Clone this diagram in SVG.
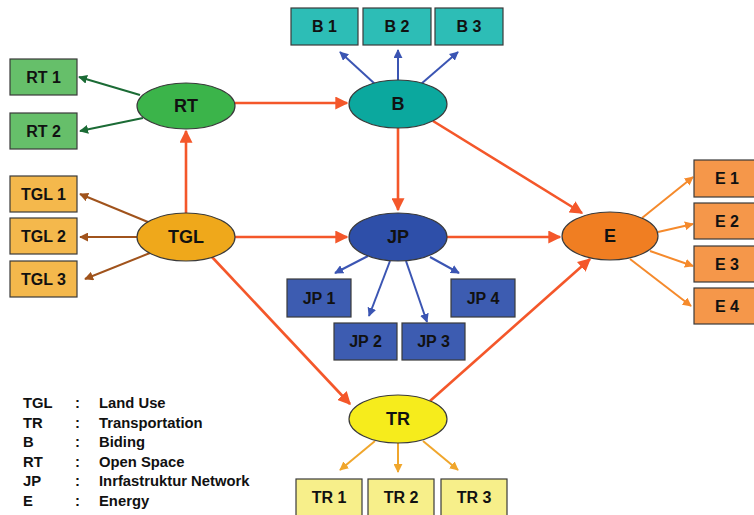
<svg xmlns="http://www.w3.org/2000/svg" width="754" height="515" viewBox="0 0 754 515">
  <defs>
    <style>
      text { font-family: "Liberation Sans", Arial, sans-serif; font-weight: bold; fill: #111; }
      .lbl { font-size: 16px; text-anchor: middle; dominant-baseline: central; }
      .big { font-size: 18px; }
      .leg { font-size: 14.8px; }
      .box { stroke: #3a3a3a; stroke-width: 1.2; }
      .ell { stroke: #3a3a3a; stroke-width: 1.2; }
      .main { stroke: #f4572a; stroke-width: 2.6; fill: none; marker-end: url(#aMain); }
      .fan { stroke-width: 2; fill: none; }
      .g { stroke: #1b6b35; marker-end: url(#aG); }
      .br { stroke: #a0531c; marker-end: url(#aBr); }
      .bl { stroke: #3b55b3; marker-end: url(#aBl); }
      .or { stroke: #f58a2c; marker-end: url(#aOr); }
      .ye { stroke: #f0a62c; marker-end: url(#aYe); }
    </style>
    <marker id="aMain" viewBox="0 0 10 10" refX="9" refY="5" markerWidth="13" markerHeight="13" markerUnits="userSpaceOnUse" orient="auto"><path d="M0,0 L10,5 L0,10 Z" fill="#f4572a"/></marker>
    <marker id="aG" viewBox="0 0 10 10" refX="9" refY="5" markerWidth="9" markerHeight="9" markerUnits="userSpaceOnUse" orient="auto"><path d="M0,0 L10,5 L0,10 Z" fill="#1b6b35"/></marker>
    <marker id="aBr" viewBox="0 0 10 10" refX="9" refY="5" markerWidth="9" markerHeight="9" markerUnits="userSpaceOnUse" orient="auto"><path d="M0,0 L10,5 L0,10 Z" fill="#a0531c"/></marker>
    <marker id="aBl" viewBox="0 0 10 10" refX="9" refY="5" markerWidth="9" markerHeight="9" markerUnits="userSpaceOnUse" orient="auto"><path d="M0,0 L10,5 L0,10 Z" fill="#3b55b3"/></marker>
    <marker id="aOr" viewBox="0 0 10 10" refX="9" refY="5" markerWidth="9" markerHeight="9" markerUnits="userSpaceOnUse" orient="auto"><path d="M0,0 L10,5 L0,10 Z" fill="#f58a2c"/></marker>
    <marker id="aYe" viewBox="0 0 10 10" refX="9" refY="5" markerWidth="9" markerHeight="9" markerUnits="userSpaceOnUse" orient="auto"><path d="M0,0 L10,5 L0,10 Z" fill="#f0a62c"/></marker>
  </defs>

  <rect width="754" height="515" fill="#ffffff"/>

  <!-- connectors -->
  <g id="connectors">
    <line class="main" x1="235" y1="103" x2="347" y2="103"/>
    <line class="main" x1="186" y1="213" x2="186" y2="131"/>
    <line class="main" x1="235" y1="237" x2="347" y2="237"/>
    <line class="main" x1="398" y1="128" x2="398" y2="210"/>
    <line class="main" x1="433" y1="121" x2="582" y2="213"/>
    <line class="main" x1="447" y1="237" x2="560" y2="237"/>
    <line class="main" x1="212" y1="257" x2="350" y2="404"/>
    <line class="main" x1="430" y1="401" x2="590" y2="259"/>

    <line class="fan g" x1="140" y1="95" x2="79" y2="77"/>
    <line class="fan g" x1="143" y1="118" x2="80" y2="131"/>

    <line class="fan br" x1="148" y1="222" x2="80" y2="194"/>
    <line class="fan br" x1="137" y1="237" x2="80" y2="237"/>
    <line class="fan br" x1="150" y1="253" x2="85" y2="279"/>

    <line class="fan bl" x1="375" y1="84" x2="340" y2="52"/>
    <line class="fan bl" x1="398" y1="80" x2="398" y2="50"/>
    <line class="fan bl" x1="421" y1="84" x2="458" y2="52"/>

    <line class="fan bl" x1="368" y1="256" x2="335" y2="273"/>
    <line class="fan bl" x1="390" y1="261" x2="369" y2="316"/>
    <line class="fan bl" x1="406" y1="261" x2="427" y2="322"/>
    <line class="fan bl" x1="430" y1="257" x2="459" y2="273"/>

    <line class="fan or" x1="642" y1="218" x2="693" y2="177"/>
    <line class="fan or" x1="658" y1="232" x2="693" y2="224"/>
    <line class="fan or" x1="650" y1="251" x2="693" y2="266"/>
    <line class="fan or" x1="630" y1="259" x2="691" y2="306"/>

    <line class="fan ye" x1="375" y1="441" x2="340" y2="470"/>
    <line class="fan ye" x1="398" y1="443" x2="398" y2="472"/>
    <line class="fan ye" x1="423" y1="441" x2="458" y2="470"/>
  </g>

  <!-- RT -->
  <g id="RT"><ellipse class="ell" cx="186" cy="106" rx="49" ry="23" fill="#3bb44a"/><text class="lbl big" x="186" y="106">RT</text></g>
  <g id="RT1"><rect class="box" x="10" y="59" width="67" height="36" fill="#66bf6a"/><text class="lbl" x="43.5" y="77">RT 1</text></g>
  <g id="RT2"><rect class="box" x="10" y="113" width="67" height="36" fill="#66bf6a"/><text class="lbl" x="43.5" y="131">RT 2</text></g>

  <!-- TGL -->
  <g id="TGL"><ellipse class="ell" cx="186" cy="237" rx="49" ry="24" fill="#efa81b"/><text class="lbl big" x="186" y="237">TGL</text></g>
  <g id="TGL1"><rect class="box" x="10" y="176" width="67" height="36" fill="#f4b84c"/><text class="lbl" x="43.5" y="194">TGL 1</text></g>
  <g id="TGL2"><rect class="box" x="10" y="218" width="67" height="36" fill="#f4b84c"/><text class="lbl" x="43.5" y="236">TGL 2</text></g>
  <g id="TGL3"><rect class="box" x="10" y="261" width="67" height="36" fill="#f4b84c"/><text class="lbl" x="43.5" y="279">TGL 3</text></g>

  <!-- B -->
  <g id="B"><ellipse class="ell" cx="398" cy="104" rx="49" ry="24" fill="#0ba89e"/><text class="lbl big" x="398" y="104">B</text></g>
  <g id="B1"><rect class="box" x="291" y="8" width="67" height="37" fill="#2dbdb6"/><text class="lbl" x="324.5" y="26.5">B 1</text></g>
  <g id="B2"><rect class="box" x="363" y="8" width="68" height="37" fill="#2dbdb6"/><text class="lbl" x="397" y="26.5">B 2</text></g>
  <g id="B3"><rect class="box" x="435" y="8" width="68" height="37" fill="#2dbdb6"/><text class="lbl" x="469" y="26.5">B 3</text></g>

  <!-- JP -->
  <g id="JP"><ellipse class="ell" cx="398" cy="237" rx="49" ry="24" fill="#2e4fa9"/><text class="lbl big" x="398" y="237">JP</text></g>
  <g id="JP1"><rect class="box" x="287" y="279" width="64" height="38" fill="#3d5cb1"/><text class="lbl" x="319" y="298">JP 1</text></g>
  <g id="JP2"><rect class="box" x="334" y="323" width="63" height="37" fill="#3d5cb1"/><text class="lbl" x="365.5" y="341.5">JP 2</text></g>
  <g id="JP3"><rect class="box" x="402" y="323" width="63" height="37" fill="#3d5cb1"/><text class="lbl" x="433.5" y="341.5">JP 3</text></g>
  <g id="JP4"><rect class="box" x="451" y="279" width="64" height="38" fill="#3d5cb1"/><text class="lbl" x="483" y="298">JP 4</text></g>

  <!-- E -->
  <g id="E"><ellipse class="ell" cx="610" cy="236" rx="48" ry="24" fill="#f07e22"/><text class="lbl big" x="610" y="236">E</text></g>
  <g id="E1"><rect class="box" x="694" y="160" width="62" height="37" fill="#f5974a"/><text class="lbl" x="727" y="178.5">E 1</text></g>
  <g id="E2"><rect class="box" x="694" y="203" width="62" height="36" fill="#f5974a"/><text class="lbl" x="727" y="221">E 2</text></g>
  <g id="E3"><rect class="box" x="694" y="246" width="62" height="36" fill="#f5974a"/><text class="lbl" x="727" y="264">E 3</text></g>
  <g id="E4"><rect class="box" x="694" y="288" width="62" height="36" fill="#f5974a"/><text class="lbl" x="727" y="306">E 4</text></g>

  <!-- TR -->
  <g id="TR"><ellipse class="ell" cx="398" cy="419" rx="49" ry="24" fill="#f6ec1c"/><text class="lbl big" x="398" y="419">TR</text></g>
  <g id="TR1"><rect class="box" x="296" y="479" width="66" height="40" fill="#f7ef8a"/><text class="lbl" x="329" y="497">TR 1</text></g>
  <g id="TR2"><rect class="box" x="368" y="479" width="66" height="40" fill="#f7ef8a"/><text class="lbl" x="401" y="497">TR 2</text></g>
  <g id="TR3"><rect class="box" x="441" y="479" width="66" height="40" fill="#f7ef8a"/><text class="lbl" x="474" y="497">TR 3</text></g>

  <!-- legend -->
  <g id="legend">
    <text class="leg" x="23" y="408">TGL</text><text class="leg" x="75" y="408">:</text><text class="leg" x="99" y="408">Land Use</text>
    <text class="leg" x="23" y="427.5">TR</text><text class="leg" x="75" y="427.5">:</text><text class="leg" x="99" y="427.5">Transportation</text>
    <text class="leg" x="23" y="447">B</text><text class="leg" x="75" y="447">:</text><text class="leg" x="99" y="447">Biding</text>
    <text class="leg" x="23" y="466.5">RT</text><text class="leg" x="75" y="466.5">:</text><text class="leg" x="99" y="466.5">Open Space</text>
    <text class="leg" x="23" y="486">JP</text><text class="leg" x="75" y="486">:</text><text class="leg" x="99" y="486">Inrfastruktur Network</text>
    <text class="leg" x="23" y="505.5">E</text><text class="leg" x="75" y="505.5">:</text><text class="leg" x="99" y="505.5">Energy</text>
  </g>
</svg>
